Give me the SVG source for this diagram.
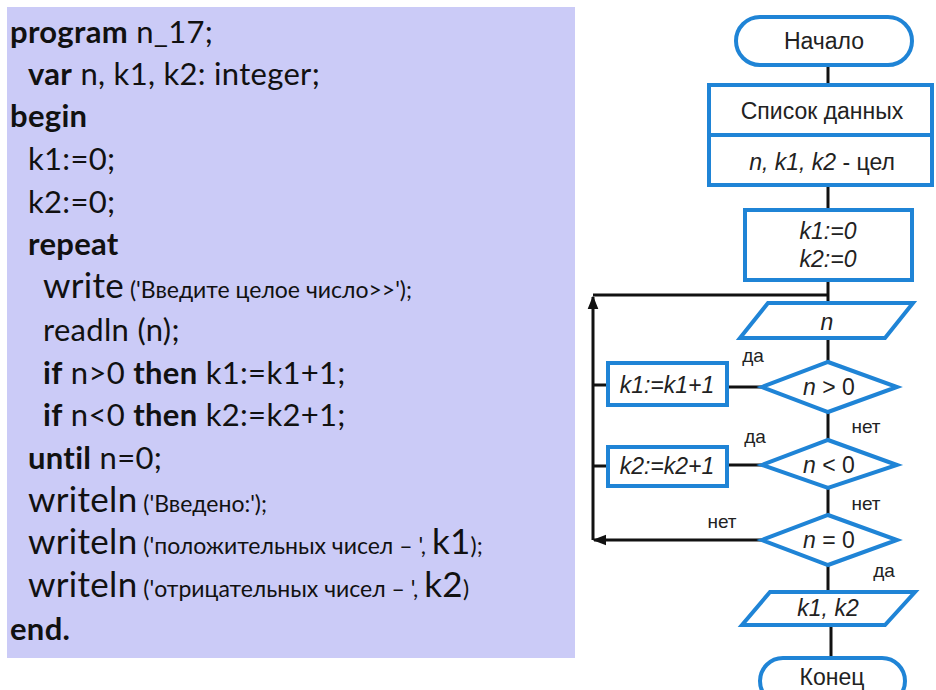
<svg xmlns="http://www.w3.org/2000/svg" width="936" height="690" viewBox="0 0 936 690">
<defs>
<style>
.code{font-family:Lato,"Liberation Sans",sans-serif;font-size:31px;letter-spacing:0.3px;fill:#111}
.b{font-weight:bold}
.big{font-size:35px}
.sm{font-size:23px;letter-spacing:0}
.blk{fill:#fff;stroke:#1f84d6;stroke-width:4}
.lbl{font-family:"Liberation Sans",Arial,sans-serif;font-size:23px;fill:#222;text-anchor:middle}
.it{font-style:italic}
.yn{font-family:"Liberation Sans",Arial,sans-serif;font-size:19px;fill:#222;text-anchor:middle}
.ln{fill:none;stroke:#111;stroke-width:3}
</style>
<marker id="ah" viewBox="0 0 10 10" refX="9" refY="5" markerWidth="4.5" markerHeight="4.5" orient="auto" markerUnits="strokeWidth">
<path d="M0,1 L10,5 L0,9 z" fill="#111"/>
</marker>
</defs>
<rect x="0" y="0" width="936" height="690" fill="#fff"/>
<g id="code">
<rect x="7" y="7" width="568" height="651" fill="#cbcbf7"/>
<text class="code" x="10" y="43"><tspan class="b">program</tspan> n_17;</text>
<text class="code" x="28" y="85"><tspan class="b">var</tspan> n, k1, k2: integer;</text>
<text class="code b" x="10" y="127">begin</text>
<text class="code" x="28" y="170">k1:=0;</text>
<text class="code" x="28" y="213">k2:=0;</text>
<text class="code b" x="28" y="255">repeat</text>
<text class="code" x="43" y="298"><tspan class="big">write</tspan><tspan class="sm"> ('Введите целое число&gt;&gt;');</tspan></text>
<text class="code" x="43" y="341">readln (n);</text>
<text class="code" x="43" y="384"><tspan class="b">if</tspan> n&gt;0 <tspan class="b">then</tspan> k1:=k1+1;</text>
<text class="code" x="43" y="426"><tspan class="b">if</tspan> n&lt;0 <tspan class="b">then</tspan> k2:=k2+1;</text>
<text class="code" x="28" y="469"><tspan class="b">until</tspan> n=0;</text>
<text class="code" x="28" y="512"><tspan class="big">writeln</tspan><tspan class="sm"> ('Введено:');</tspan></text>
<text class="code" x="28" y="554"><tspan class="big">writeln</tspan><tspan class="sm"> ('положительных чисел – ', </tspan><tspan class="big">k1</tspan><tspan class="sm">);</tspan></text>
<text class="code" x="28" y="597"><tspan class="big">writeln</tspan><tspan class="sm"> ('отрицательных чисел – ', </tspan><tspan class="big">k2</tspan><tspan class="sm">)</tspan></text>
<text class="code b" x="10" y="640">end.</text>
</g>
<g id="connectors">
<line class="ln" x1="828" y1="65" x2="828" y2="85"/>
<line class="ln" x1="828" y1="185" x2="828" y2="210"/>
<line class="ln" x1="828" y1="280" x2="828" y2="303"/>
<line class="ln" x1="828" y1="338" x2="828" y2="362"/>
<line class="ln" x1="828" y1="412" x2="828" y2="440"/>
<line class="ln" x1="828" y1="488" x2="828" y2="515"/>
<line class="ln" x1="828" y1="565" x2="828" y2="592"/>
<line class="ln" x1="831" y1="625" x2="831" y2="658"/>
<line class="ln" x1="762" y1="387" x2="727" y2="387"/>
<line class="ln" x1="762" y1="465" x2="727" y2="465"/>
<line class="ln" x1="608" y1="385" x2="593" y2="385"/>
<line class="ln" x1="608" y1="466" x2="593" y2="466"/>
<polyline class="ln" points="762,540 594,540" marker-end="url(#ah)"/>
<polyline class="ln" points="593,540 593,297" marker-end="url(#ah)"/>
<polyline class="ln" points="593,295 828,295"/>
</g>
<g id="start">
<rect class="blk" x="736" y="17" width="176" height="48" rx="24"/>
<text class="lbl" x="824" y="49">Начало</text>
</g>
<g id="data">
<rect class="blk" x="709" y="85" width="223" height="100"/>
<line x1="709" y1="135" x2="932" y2="135" stroke="#1f84d6" stroke-width="4"/>
<text class="lbl" x="822" y="119">Список данных</text>
<text class="lbl" x="822" y="170"><tspan class="it">n, k1, k2</tspan> - цел</text>
</g>
<g id="init">
<rect class="blk" x="745" y="210" width="167" height="70"/>
<text class="lbl it" x="828" y="239">k1:=0</text>
<text class="lbl it" x="828" y="267">k2:=0</text>
</g>
<g id="input">
<polygon class="blk" points="768,303 913,303 885,338 740,338"/>
<text class="lbl it" x="827" y="330">n</text>
</g>
<g id="cond1">
<polygon class="blk" points="762,387 828,362 897,387 828,412"/>
<text class="lbl" x="829" y="395"><tspan class="it">n</tspan> &gt; 0</text>
<text class="yn" x="753" y="362">да</text>
<text class="yn" x="866" y="433">нет</text>
</g>
<g id="inc1">
<rect class="blk" x="608" y="363" width="119" height="42"/>
<text class="lbl it" x="667" y="393">k1:=k1+1</text>
</g>
<g id="cond2">
<polygon class="blk" points="762,465 828,440 897,465 828,488"/>
<text class="lbl" x="829" y="473"><tspan class="it">n</tspan> &lt; 0</text>
<text class="yn" x="755" y="443">да</text>
<text class="yn" x="866" y="510">нет</text>
</g>
<g id="inc2">
<rect class="blk" x="608" y="447" width="119" height="39"/>
<text class="lbl it" x="667" y="474">k2:=k2+1</text>
</g>
<g id="cond3">
<polygon class="blk" points="762,540 828,515 897,540 828,565"/>
<text class="lbl" x="829" y="548"><tspan class="it">n</tspan> = 0</text>
<text class="yn" x="722" y="528">нет</text>
<text class="yn" x="884" y="577">да</text>
</g>
<g id="output">
<polygon class="blk" points="770,592 915,592 885,625 742,625"/>
<text class="lbl it" x="828" y="616">k1, k2</text>
</g>
<g id="end">
<rect class="blk" x="760" y="658" width="145" height="46" rx="23"/>
<text class="lbl" x="832" y="685">Конец</text>
</g>
</svg>
